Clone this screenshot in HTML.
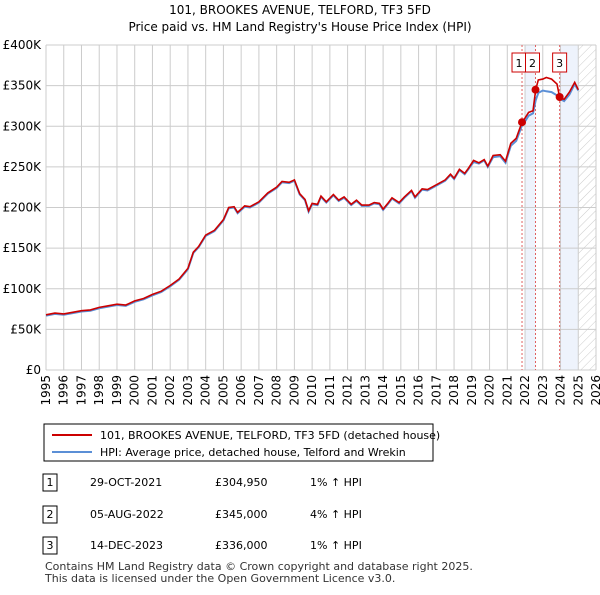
<!DOCTYPE html>
<html><head><meta charset="utf-8"><style>
body{margin:0;background:#fff;font-family:"Liberation Sans","DejaVu Sans",sans-serif;}
svg text{font-family:"DejaVu Sans","Liberation Sans",sans-serif;}
</style></head><body>
<svg width="600" height="590" viewBox="0 0 600 590" xmlns="http://www.w3.org/2000/svg">
<text x="300" y="14" text-anchor="middle" font-size="12">101, BROOKES AVENUE, TELFORD, TF3 5FD</text>
<text x="300" y="31" text-anchor="middle" font-size="12">Price paid vs. HM Land Registry's House Price Index (HPI)</text>
<defs><pattern id="hatch" width="6" height="6" patternUnits="userSpaceOnUse" patternTransform="rotate(45)"><line x1="0" y1="0" x2="0" y2="6" stroke="#ccc" stroke-width="1"/></pattern></defs>
<g id="grid"></g><g id="marks"></g><g id="axes"></g>
<rect x="44" y="424" width="389" height="37" fill="#fff" stroke="#000"/>
<line x1="52" y1="435" x2="92" y2="435" stroke="#cc0000" stroke-width="2"/>
<text x="100" y="439" font-size="11">101, BROOKES AVENUE, TELFORD, TF3 5FD (detached house)</text>
<line x1="52" y1="452" x2="92" y2="452" stroke="#5b8fd6" stroke-width="2"/>
<text x="100" y="456" font-size="11">HPI: Average price, detached house, Telford and Wrekin</text>
<g font-size="11">
<rect x="43" y="474" width="14" height="17" fill="#fff" stroke="#000"/><text x="50" y="486" text-anchor="middle">1</text>
<text x="90" y="486">29-OCT-2021</text><text x="215" y="486">£304,950</text><text x="310" y="486">1% ↑ HPI</text>
<rect x="43" y="506" width="14" height="17" fill="#fff" stroke="#000"/><text x="50" y="518" text-anchor="middle">2</text>
<text x="90" y="518">05-AUG-2022</text><text x="215" y="518">£345,000</text><text x="310" y="518">4% ↑ HPI</text>
<rect x="43" y="537" width="14" height="17" fill="#fff" stroke="#000"/><text x="50" y="549" text-anchor="middle">3</text>
<text x="90" y="549">14-DEC-2023</text><text x="215" y="549">£336,000</text><text x="310" y="549">1% ↑ HPI</text>
</g>
<text x="45" y="570" font-size="11" fill="#333">Contains HM Land Registry data © Crown copyright and database right 2025.</text>
<text x="45" y="582" font-size="11" fill="#333">This data is licensed under the Open Government Licence v3.0.</text>
</svg>
<script>
const years=[1995,1996,1997,1998,1999,2000,2001,2002,2003,2004,2005,2006,2007,2008,2009,2010,2011,2012,2013,2014,2015,2016,2017,2018,2019,2020,2021,2022,2023,2024,2025,2026];
const yTicks=[0,50,100,150,200,250,300,350,400];
const yTickLabels=["£0","£50K","£100K","£150K","£200K","£250K","£300K","£350K","£400K"];
const priceT=[1995,1995.5,1996,1996.5,1997,1997.5,1998,1998.5,1999,1999.5,2000,2000.5,2001,2001.5,2002,2002.5,2003,2003.3,2003.6,2004,2004.5,2005,2005.3,2005.6,2005.8,2006.2,2006.5,2007,2007.5,2008,2008.3,2008.7,2009,2009.3,2009.6,2009.8,2010,2010.3,2010.5,2010.8,2011.2,2011.5,2011.8,2012.2,2012.5,2012.8,2013.2,2013.5,2013.8,2014,2014.3,2014.5,2014.9,2015.2,2015.6,2015.8,2016.2,2016.5,2017,2017.5,2017.8,2018,2018.3,2018.6,2018.8,2019.1,2019.4,2019.7,2019.9,2020.2,2020.6,2020.9,2021.2,2021.5,2021.83,2022,2022.2,2022.45,2022.6,2022.75,2023,2023.2,2023.5,2023.8,2023.95,2024.2,2024.5,2024.8,2025];
const priceV=[68,70,69,71,73,74,77,79,81,80,85,88,93,97,104,112,125,145,152,166,172,185,200,201,194,202,201,207,218,225,232,231,234,217,210,196,205,204,214,207,216,209,213,204,209,203,203,206,205,198,206,212,206,213,221,213,223,222,228,234,241,236,247,242,248,258,255,259,251,264,265,257,279,285,304.95,310,317,319,345,357,358,360,358,352,336,333,342,354,345];
const hpiV=[67,69,68,70,72,73,76,78,80,79,84,87,92,96,103,111,124,144,151,165,171,184,199,200,193,201,200,206,217,224,231,230,233,216,209,195,204,203,213,206,215,208,212,203,208,202,202,205,204,197,205,211,205,212,220,212,222,221,227,233,240,235,246,241,247,256,254,258,250,262,263,255,276,282,301,306,313,316,332,341,344,343,342,338,334,331,339,352,344];
const salesT=[2021.83,2022.59,2023.95];
const salesV=[304.95,345,336];
const salesLabel=["1","2","3"];
const NS="http://www.w3.org/2000/svg";
const X0=46,X1=596,Y0=370,Y1=45;
const xs=t=>X0+(t-1995)/(2026-1995)*(X1-X0);
const ys=v=>Y0-v/400*(Y0-Y1);
function mk(tag,attrs,parent){const e=document.createElementNS(NS,tag);for(const k in attrs)e.setAttribute(k,attrs[k]);parent.appendChild(e);return e;}
const grid=document.getElementById('grid'),marks=document.getElementById('marks'),axes=document.getElementById('axes');
let r=mk('rect',{x:xs(2022),y:Y1,width:xs(salesT[1])-xs(2022),height:Y0-Y1,fill:'#eef3fc'},grid);


r=mk('rect',{x:xs(salesT[2]),y:Y1,width:xs(2025)-xs(salesT[2]),height:Y0-Y1,fill:'#eef3fc'},grid);


r=mk('rect',{x:xs(2025),y:Y1,width:X1-xs(2025),height:Y0-Y1,fill:'url(#hatch)'},grid);


years.forEach(y=>{
 const l=mk('line',{x1:xs(y),x2:xs(y),y1:Y1,y2:Y0,stroke:'#ccc'},grid);
 
 
 const tx=xs(y)+4, ty=Y0+5;
 const t=mk('text',{x:tx,y:ty,'text-anchor':'end','font-size':'12',transform:'rotate(-90 '+tx+' '+ty+')'},axes);
 t.textContent=y;
 
 
});
yTicks.forEach((v,i)=>{
 const l=mk('line',{x1:X0,x2:X1,y1:ys(v),y2:ys(v),stroke:'#ccc'},grid);
 
 
 const t=mk('text',{x:X0-5,y:ys(v)+4,'text-anchor':'end','font-size':'12'},axes);
 t.textContent=yTickLabels[i];
 
 
});
salesT.forEach((t,i)=>{
 const l=mk('line',{x1:xs(t),x2:xs(t),y1:Y1,y2:Y0,stroke:'#e06060','stroke-dasharray':'2,2'},grid);
 
 
});
const pts=(v)=>priceT.map((t,i)=>xs(t).toFixed(1)+','+ys(v[i]).toFixed(1)).join(' ');
let p=mk('polyline',{points:pts(hpiV),fill:'none',stroke:'#5b8fd6','stroke-width':2},marks);


p=mk('polyline',{points:pts(priceV),fill:'none',stroke:'#cc0000','stroke-width':1.6},marks);


salesT.forEach((t,i)=>{
 const c=mk('circle',{cx:xs(t),cy:ys(salesV[i]),r:4,fill:'#cc0000'},marks);
 
 
 const bx=i===0?xs(t)-10:(i===1?xs(t)-10:xs(t)-7);
 const b=mk('rect',{x:bx,y:53,width:14,height:19,fill:'#fff',stroke:'#cc0000'},marks);
 
 
 const tx=mk('text',{x:bx+7,y:67,'text-anchor':'middle','font-size':'11'},marks);
 tx.textContent=salesLabel[i];
 
 
});
</script>
</body></html>
